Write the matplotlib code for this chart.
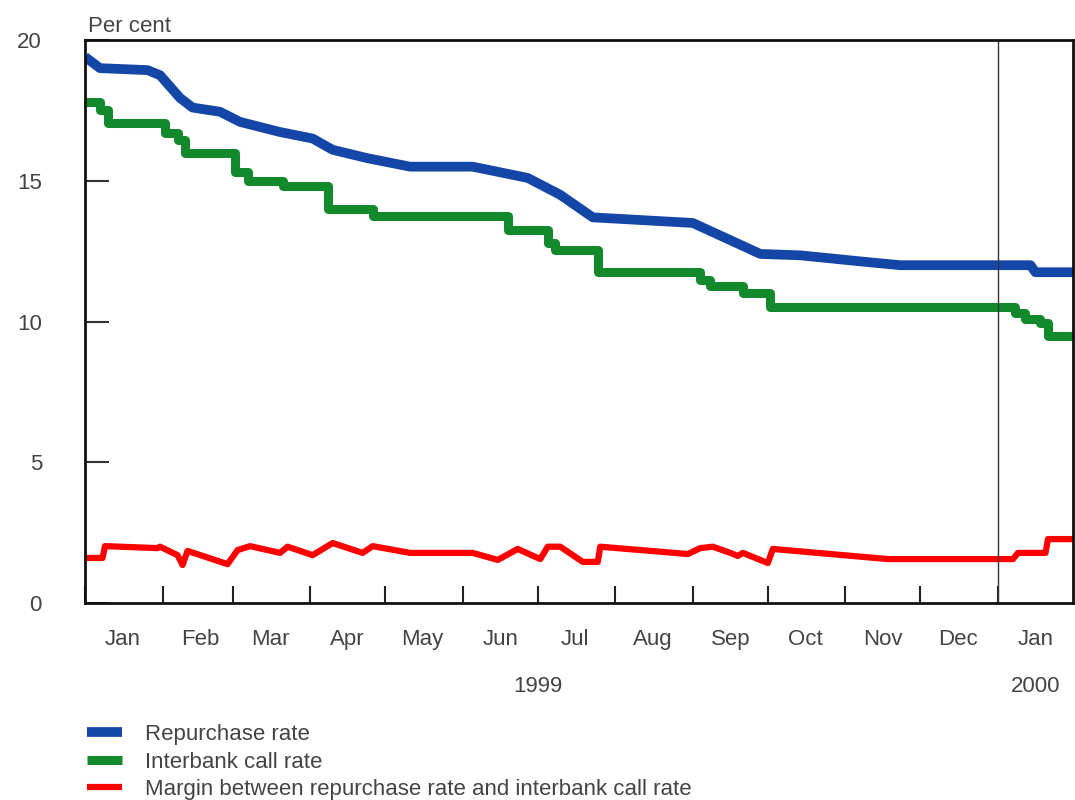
import numpy as np
import pandas as pd
import matplotlib
matplotlib.use("Agg")
import matplotlib.pyplot as plt
import matplotlib.dates as mdates
import matplotlib.transforms as mtransforms

plt.rcParams['font.family'] = ['Liberation Sans', 'DejaVu Sans']

# Repurchase rate (per cent)
repo_dates = ["1999-01-01", "1999-01-07", "1999-01-26", "1999-01-31", "1999-02-08",
              "1999-02-13", "1999-02-24", "1999-03-04", "1999-03-20", "1999-04-02",
              "1999-04-10", "1999-04-24", "1999-05-11", "1999-06-05", "1999-06-27",
              "1999-07-10", "1999-07-23", "1999-09-01", "1999-09-28", "1999-10-14",
              "1999-11-11", "1999-11-23", "2000-01-14", "2000-01-16", "2000-01-31"]
repo_rate = [19.4, 19.0, 18.93, 18.75, 17.94,
             17.6, 17.45, 17.09, 16.73, 16.5,
             16.1, 15.8, 15.5, 15.5, 15.1,
             14.5, 13.7, 13.5, 12.4, 12.35,
             12.1, 12.0, 12.0, 11.75, 11.75]

# Interbank call rate (per cent), step changes
call_dates = ["1999-01-01", "1999-01-07", "1999-01-10", "1999-02-02", "1999-02-07",
              "1999-02-10", "1999-03-02", "1999-03-07", "1999-03-21", "1999-04-08",
              "1999-04-26", "1999-06-19", "1999-07-05", "1999-07-08", "1999-07-25",
              "1999-09-04", "1999-09-08", "1999-09-21", "1999-10-02", "2000-01-08",
              "2000-01-12", "2000-01-18", "2000-01-21", "2000-01-31"]
call_rate = [17.8, 17.5, 17.05, 16.7, 16.45,
             16.0, 15.3, 15.0, 14.8, 14.0,
             13.75, 13.25, 12.8, 12.55, 11.76,
             11.47, 11.25, 11.0, 10.5, 10.3,
             10.1, 9.95, 9.5, 9.5]

# Margin between the two (per cent)
margin_dates = ["1999-01-01", "1999-01-08", "1999-01-09", "1999-01-30", "1999-01-31",
                "1999-02-07", "1999-02-09", "1999-02-11", "1999-02-27", "1999-03-03",
                "1999-03-08", "1999-03-20", "1999-03-23", "1999-04-02", "1999-04-10",
                "1999-04-22", "1999-04-26", "1999-05-11", "1999-06-05", "1999-06-15",
                "1999-06-23", "1999-07-02", "1999-07-05", "1999-07-10", "1999-07-19",
                "1999-07-25", "1999-07-26", "1999-08-30", "1999-09-04", "1999-09-09",
                "1999-09-16", "1999-09-19", "1999-09-21", "1999-10-01", "1999-10-03",
                "1999-11-18", "2000-01-07", "2000-01-09", "2000-01-20", "2000-01-21",
                "2000-01-31"]
margin = [1.6, 1.6, 2.02, 1.95, 2.0,
          1.7, 1.35, 1.85, 1.38, 1.88,
          2.02, 1.78, 2.0, 1.7, 2.13,
          1.78, 2.02, 1.78, 1.78, 1.53,
          1.92, 1.56, 2.0, 2.0, 1.46,
          1.46, 2.0, 1.74, 1.95, 2.0,
          1.78, 1.67, 1.78, 1.42, 1.92,
          1.56, 1.56, 1.78, 1.78, 2.27,
          2.27]

BLUE = "#1346a6"
GREEN = "#128a2c"
RED = "#ff0000"
TEXT = "#444444"
FS = 16

fig = plt.figure(figsize=(10.75, 8), dpi=100)
ax = fig.add_axes([85 / 1075, 197 / 800, 988 / 1075, 563 / 800])

ax.plot(pd.to_datetime(repo_dates), repo_rate, color=BLUE, lw=7,
        solid_capstyle='butt', label="Repurchase rate")
ax.plot(pd.to_datetime(call_dates), call_rate, color=GREEN, lw=6.5, drawstyle='steps-post',
        solid_capstyle='butt', label="Interbank call rate")
ax.plot(pd.to_datetime(margin_dates), margin, color=RED, lw=4.5,
        solid_capstyle='butt', label="Margin between repurchase rate and interbank call rate")

# year boundary
ax.axvline(pd.Timestamp("2000-01-01"), color="#333333", lw=1)

ax.set_xlim(pd.Timestamp("1999-01-01"), pd.Timestamp("2000-01-31"))
ax.set_ylim(0, 20)

# y axis
ax.set_yticks([0, 5, 10, 15, 20])
ax.tick_params(axis='y', direction='in', length=17, width=1.5, color="#333333",
               labelsize=FS, labelcolor=TEXT, pad=31)

# x axis: month boundaries as ticks, names centred in month
ax.xaxis.set_major_locator(mdates.MonthLocator(bymonthday=16))
ax.xaxis.set_major_formatter(mdates.DateFormatter('%b'))
ax.xaxis.set_minor_locator(mdates.MonthLocator(bymonthday=1))
ax.tick_params(axis='x', which='major', length=0, labelsize=FS, labelcolor=TEXT, pad=19)
ax.tick_params(axis='x', which='minor', direction='in', length=12, width=1.5, color="#222222")

for s in ax.spines.values():
    s.set_linewidth(2)
    s.set_color("#111111")

trans = mtransforms.blended_transform_factory(ax.transData, ax.transAxes)
ax.text(pd.Timestamp("1999-07-01"), -0.148, "1999", transform=trans, ha='center', va='center',
        fontsize=FS, color=TEXT)
ax.text(pd.Timestamp("2000-01-16"), -0.148, "2000", transform=trans, ha='center', va='center',
        fontsize=FS, color=TEXT)

ax.text(0.003, 1.006, "Per cent", transform=ax.transAxes, ha='left', va='bottom',
        fontsize=FS, color=TEXT)

fig.legend(loc='upper left', bbox_to_anchor=(78 / 1075, 1 - 715 / 800), frameon=False,
           fontsize=FS, labelcolor=TEXT, handlelength=1.6, handletextpad=1.0,
           labelspacing=0.3, borderaxespad=0)

fig.savefig("out.png", dpi=100)
